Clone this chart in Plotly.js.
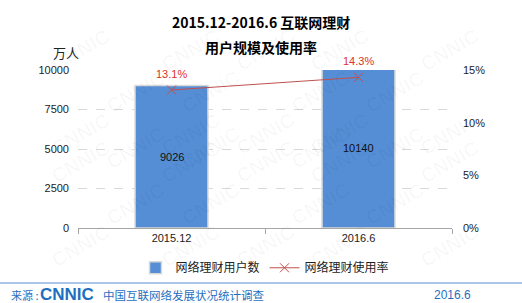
<!DOCTYPE html>
<html><head><meta charset="utf-8">
<script src="https://cdn.plot.ly/plotly-3.0.1.min.js"></script>
<style>html,body{margin:0;padding:0;background:#fff}#c{width:522px;height:303px}</style>
</head><body><div id="c"></div>
<script>
var categories = ["2015.12", "2016.6"];
var users = [9026, 10140];
var rate = [13.1, 14.3];
var rateLabels = ["13.1%", "14.3%"];
var titleLines = ["2015.12-2016.6 互联网理财", "用户规模及使用率"];
var seriesNames = ["网络理财用户数", "网络理财使用率"];

var F = "Liberation Sans, Arial, Noto Sans CJK SC, sans-serif";
var FC = "Noto Sans CJK SC, Liberation Sans, sans-serif";

var traces = [
  {type:"bar", x:categories, y:users, name:seriesNames[0],
   marker:{color:"#558ed5", line:{color:"#d9d9d9", width:1.5}},
   hoverinfo:"none", cliponaxis:true},
  {type:"scatter", mode:"lines+markers", x:categories, y:rate, yaxis:"y2", name:seriesNames[1],
   line:{color:"#c0504d", width:1},
   marker:{symbol:"x-thin", size:9, line:{color:"#c0504d", width:1}, color:"#c0504d"},
   hoverinfo:"none"}
];

// pixel -> paper helpers (plot area: x 78..452, y 70..228)
function px(x){ return (x-78)/374; }
function py(y){ return (228-y)/158; }

var ann = [];
// faint watermark, kept fully inside the canvas
for (var j=0;j<7;j++){ for (var i=0;i<5;i++){
  var cx = 45 + i*110 + (j%2)*55, cy = 22 + j*42;
  if (cx < 35 || cx > 487 || cy < 15 || cy > 288) continue;
  ann.push({xref:"paper", yref:"paper", x:px(cx), y:py(cy),
    text:"CNNIC", showarrow:false, textangle:-30,
    font:{family:F, size:20, color:"rgba(0,0,0,0.028)", weight:"bold"}});
}}
ann.push({xref:"paper", yref:"paper", x:px(261), y:py(22), text:"<b>"+titleLines[0]+"</b>", showarrow:false,
  font:{family:FC, size:14, color:"#000"}, yanchor:"middle"});
ann.push({xref:"paper", yref:"paper", x:px(261), y:py(47), text:"<b>"+titleLines[1]+"</b>", showarrow:false,
  font:{family:FC, size:14, color:"#000"}, yanchor:"middle"});
ann.push({xref:"paper", yref:"paper", x:px(51), y:py(52), text:"万人", showarrow:false,
  font:{family:FC, size:13, color:"#222"}, yanchor:"middle"});
for (var k=0;k<categories.length;k++){
  ann.push({xref:"x", yref:"y", x:k, y:users[k]/2, text:String(users[k]), showarrow:false,
    font:{family:F, size:11, color:"#111"}, yanchor:"middle"});
  ann.push({xref:"x", yref:"y2", x:k, y:rate[k], text:rateLabels[k], showarrow:false, yshift:16,
    font:{family:F, size:11, color:"#e0302a"}, yanchor:"middle"});
}
// footer
ann.push({xref:"paper", yref:"paper", x:px(9), y:py(295), xanchor:"left", text:"来源 :", showarrow:false,
  font:{family:FC, size:11, color:"#1f6fc0"}, yanchor:"middle"});
ann.push({xref:"paper", yref:"paper", x:px(38), y:py(294), xanchor:"left", text:"<b>CNNIC</b>", showarrow:false,
  font:{family:"Liberation Sans, sans-serif", size:17, color:"#1f6fc0"}, yanchor:"middle"});
ann.push({xref:"paper", yref:"paper", x:px(101), y:py(295), xanchor:"left", text:"中国互联网络发展状况统计调查", showarrow:false,
  font:{family:FC, size:11.5, color:"#1f6fc0"}, yanchor:"middle"});
ann.push({xref:"paper", yref:"paper", x:px(432), y:py(295), xanchor:"left", text:"2016.6", showarrow:false,
  font:{family:F, size:12, color:"#1f6fc0"}, yanchor:"middle"});

var layout = {
  width:522, height:303, margin:{l:78, r:70, t:70, b:75},
  paper_bgcolor:"#fff", plot_bgcolor:"rgba(0,0,0,0)",
  font:{family:F, size:11, color:"#333"},
  bargap:0.61, showlegend:true,
  legend:{orientation:"h", x:0.5, xanchor:"center", y:-0.16, yanchor:"top",
    font:{family:FC, size:12, color:"#222"}, traceorder:"normal", bgcolor:"rgba(0,0,0,0)"},
  xaxis:{type:"category", range:[-0.5,1.5], autorange:false, showline:true, linecolor:"#a6a6a6", linewidth:1,
    ticks:"outside", tickson:"boundaries", ticklen:5, tickcolor:"#a6a6a6", showgrid:false, zeroline:false,
    tickangle:0, tickfont:{family:F, size:11, color:"#222"}},
  yaxis:{range:[0,10000], autorange:false, tickvals:[0,2500,5000,7500,10000], tickformat:"d",
    showgrid:true, gridcolor:"#d9d9d9", griddash:"dash",
    zeroline:false, showline:false, ticks:"", tickfont:{family:F, size:11, color:"#222"}, ticklabelstandoff:8},
  yaxis2:{overlaying:"y", side:"right", range:[0,15], autorange:false, tickvals:[0,5,10,15], ticktext:["0%","5%","10%","15%"],
    showgrid:false, zeroline:false, showline:false, ticks:"", tickfont:{family:F, size:11, color:"#222"}, ticklabelstandoff:10},
  annotations:ann,
  shapes:[{type:"line", xref:"paper", yref:"paper", x0:px(0), x1:px(522), y0:py(283), y1:py(283),
    line:{color:"#558ed5", width:1}}]
};
Plotly.newPlot("c", traces, layout, {staticPlot:true});
</script></body></html>
